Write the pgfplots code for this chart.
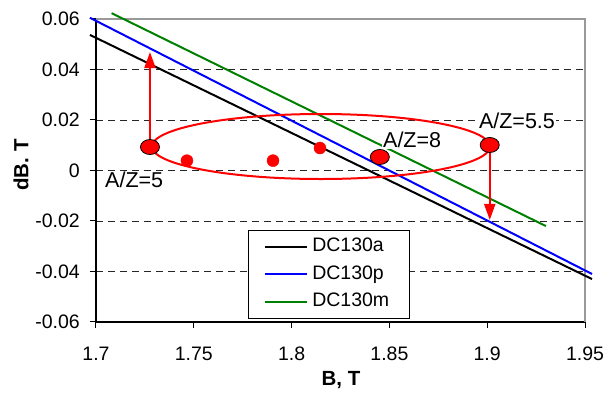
\documentclass[border=0pt]{standalone}
\usepackage{fontspec}
\setmainfont{Liberation Sans}
\usepackage{pgfplots}
\pgfplotsset{compat=1.18}
\usetikzlibrary{arrows.meta}
\begin{document}
\fontsize{19.5}{23}\selectfont
\begin{tikzpicture}
\useasboundingbox (-96pt,-73pt) rectangle (509pt,322pt);
\begin{axis}[
  scale only axis, width=489pt, height=303pt,
  at={(0,0)}, anchor=south west,
  xmin=1.7, xmax=1.95, ymin=-0.06, ymax=0.06,
  scaled ticks=false,
  xtick={1.7,1.75,1.8,1.85,1.9,1.95},
  xticklabels={1.7,1.75,1.8,1.85,1.9,1.95},
  ytick={-0.06,-0.04,-0.02,0,0.02,0.04,0.06},
  yticklabels={-0.06,-0.04,-0.02,0,0.02,0.04,0.06},
  axis x line*=bottom, axis y line*=left,
  axis line style={-, line width=1.2pt, black},
  tick align=outside, major tick length=6pt,
  tick style={black, line width=1pt},
  ymajorgrids,
  grid style={black!85, line width=0.9pt, dash pattern=on 7pt off 5pt},
  clip=false,
  xticklabel style={font=\fontsize{19.5}{23}\selectfont, yshift=-12pt},
  yticklabel style={font=\fontsize{19.5}{23}\selectfont, xshift=-3.5pt},
  xlabel={B, T}, ylabel={dB. T},
  xlabel style={font=\fontsize{20.5}{24}\selectfont\bfseries, at={(axis description cs:0.501,0)}, anchor=center, yshift=-58pt},
  ylabel style={font=\fontsize{20.5}{24}\selectfont\bfseries, at={(axis description cs:-0.1534,0.518)}, anchor=center},
  legend style={at={(0.311,0.3036)}, anchor=north west, draw=black, line width=0.9pt, fill=white,
    font=\fontsize{19.5}{23}\selectfont, inner xsep=15pt, inner ysep=2.5pt,
    nodes={text height=14pt, text depth=4pt, inner sep=4.75pt}},
  legend cell align=left,
  legend image code/.code={\draw[#1, line width=2pt] (0pt,0pt) -- (42pt,0pt);},
]
\draw[black!40, line width=1.5pt] (rel axis cs:0,1) -- (rel axis cs:1,1) -- (rel axis cs:1,0);
\addplot[black, line width=2pt] coordinates {(1.6969,0.0537) (1.9536,-0.0430)};
\addlegendentry{DC130a}
\addplot[blue, line width=2pt] coordinates {(1.6969,0.0605) (1.9536,-0.0410)};
\addlegendentry{DC130p}
\addplot[green!50!black, line width=2pt] coordinates {(1.7080,0.0623) (1.9300,-0.0220)};
\addlegendentry{DC130m}
\draw[red, line width=2pt, -{Triangle[length=16pt,width=11pt]}] (axis cs:1.7276,0.0093) -- (axis cs:1.7276,0.0469);
\draw[red, line width=2pt, -{Triangle[length=16pt,width=11pt]}] (axis cs:1.9013,0.0101) -- (axis cs:1.9013,-0.0196);
\draw[red, line width=2pt] (axis cs:1.815,0.0095) ellipse [x radius=169pt, y radius=32.5pt];
\node[anchor=west, inner sep=0pt, font=\fontsize{21.5}{25}\selectfont] at (axis cs:1.7046,-0.0038) {A/Z=5};
\node[anchor=west, inner sep=1pt, fill=white, font=\fontsize{21.5}{25}\selectfont] at (axis cs:1.8462,0.0121) {A/Z=8};
\node[anchor=west, inner sep=1pt, fill=white, font=\fontsize{21.5}{25}\selectfont] at (axis cs:1.8952,0.0196) {A/Z=5.5};
\addplot[forget plot, only marks, mark=*, mark size=6pt, mark options={draw=red, fill=red}] coordinates {(1.7465,0.0039) (1.7905,0.0039) (1.8145,0.0089)};
\addplot[forget plot, only marks, mark=*, mark size=7.5pt, mark options={draw=black, fill=red, line width=0.8pt, xscale=1.27}] coordinates {(1.7276,0.0093) (1.8451,0.00535) (1.9013,0.0101)};
\end{axis}
\end{tikzpicture}
\end{document}
